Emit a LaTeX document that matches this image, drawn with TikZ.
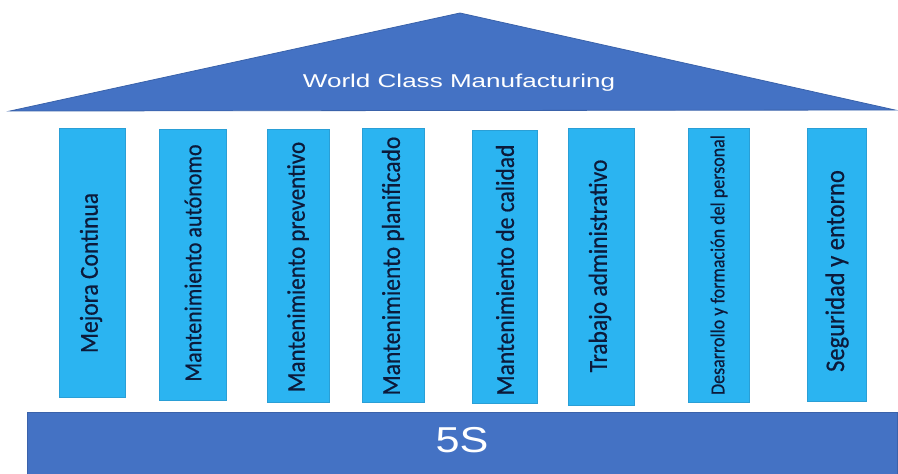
\documentclass[tikz,border=0pt]{standalone}
\usepackage{fontspec}
\usepackage{graphicx}
\setmainfont{Liberation Sans}
\newfontfamily\pillarfont[FakeBold=0.6]{Carlito}
\definecolor{roofblue}{HTML}{4472C4}
\definecolor{roofedge}{HTML}{3A62AA}
\definecolor{pillarblue}{HTML}{2BB4F1}
\definecolor{pillaredge}{HTML}{2A9FD6}
\definecolor{pillartext}{HTML}{0C1A3A}
\tikzset{
  pillar/.style={rectangle, fill=pillarblue, draw=pillaredge, line width=0.5pt, inner sep=0pt},
  ptext/.style={rotate=90, text=pillartext, inner sep=0pt, font=\pillarfont\fontsize{23.5}{26}\selectfont},
  roofstyle/.style={fill=roofblue, draw=roofedge, line width=0.8pt},
  whitetext/.style={text=white, inner sep=0pt, anchor=base}
}
\begin{document}
\begin{tikzpicture}[x=1pt,y=-1pt]
\useasboundingbox (0,0) rectangle (898,474);
% roof
\coordinate (rl) at (10,111);
\coordinate (rt) at (460,13);
\coordinate (rr) at (895,110);
\draw[roofstyle] (rl) -- (rt) -- (rr) -- cycle;
\node[whitetext, font=\fontsize{18.6}{20}\selectfont] (title) at (459,87) {\scalebox{1.4}[1]{World Class Manufacturing}};
% base
\node[rectangle, fill=roofblue, draw=roofedge, line width=0.8pt, inner sep=0pt, minimum width=870pt, minimum height=66pt] (base) at (462,445) {};
\node[whitetext, font=\fontsize{36}{40}\selectfont] (fives) at (462,452.7) {\scalebox{1.2}[1]{5S}};
% pillars
\node[pillar, minimum width=66pt, minimum height=269pt] (p1) at (92,262.5) {};
\node[pillar, minimum width=67pt, minimum height=271pt] (p2) at (192.5,264.5) {};
\node[pillar, minimum width=62pt, minimum height=273pt] (p3) at (298,265.5) {};
\node[pillar, minimum width=62pt, minimum height=274pt] (p4) at (393,265) {};
\node[pillar, minimum width=65pt, minimum height=273pt] (p5) at (504.5,266.5) {};
\node[pillar, minimum width=66pt, minimum height=277pt] (p6) at (601,266.5) {};
\node[pillar, minimum width=61pt, minimum height=274pt] (p7) at (718.5,265) {};
\node[pillar, minimum width=59pt, minimum height=273pt] (p8) at (836.5,264.5) {};
% pillar texts
\node[ptext] (t1) at (91,273) {\scalebox{1}[1.1]{Mejora Continua}};
\node[ptext, font=\pillarfont\fontsize{22}{24}\selectfont] (t2) at (193,263) {\scalebox{1}[1.1]{Mantenimiento autónomo}};
\node[ptext, font=\pillarfont\fontsize{23}{25}\selectfont] (t3) at (298,267) {\scalebox{1}[1.1]{Mantenimiento preventivo}};
\node[ptext] (t4) at (393,266) {\scalebox{1}[1.1]{Mantenimiento planificado}};
\node[ptext] (t5) at (505,270) {\scalebox{1}[1.1]{Mantenimiento de calidad}};
\node[ptext] (t6) at (600,266) {\scalebox{1}[1.1]{Trabajo administrativo}};
\node[ptext, font=\pillarfont\fontsize{18}{20}\selectfont] (t7) at (719,265) {\scalebox{1}[1.1]{Desarrollo y formación del personal}};
\node[ptext, font=\pillarfont\fontsize{24.5}{26}\selectfont] (t8) at (837,271) {\scalebox{1}[1.1]{Seguridad y entorno}};
\end{tikzpicture}
\end{document}
